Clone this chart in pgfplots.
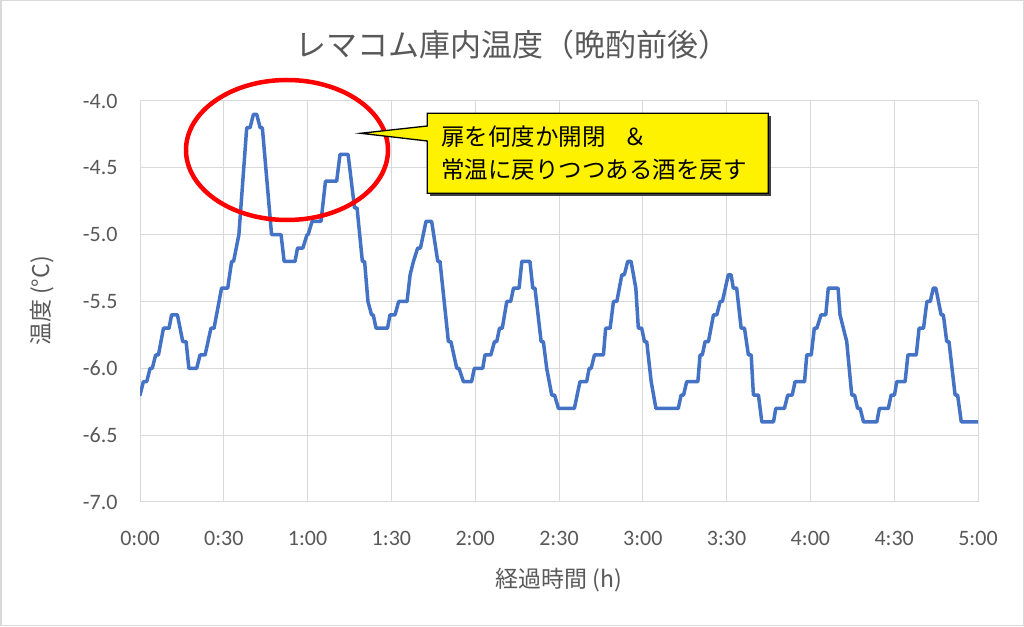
\documentclass[border=0pt]{standalone}
\usepackage{pgfplots}
\pgfplotsset{compat=1.18}
\usepackage{fontspec}
\setmainfont{Carlito}
\newfontfamily\jp{Noto Sans CJK JP}
\definecolor{lineblue}{HTML}{4472C4}
\definecolor{gridgray}{HTML}{D9D9D9}
\definecolor{textgray}{HTML}{595959}

\begin{document}
\begin{tikzpicture}
% chart area
\fill[white] (0pt,0pt) rectangle (1024pt,626pt);
\draw[gridgray, line width=1.5pt] (0.75pt,0.75pt) rectangle (1023.25pt,625.25pt);

\begin{axis}[
    at={(140pt,124pt)}, anchor=south west,
    scale only axis, width=838pt, height=401pt,
    xmin=0, xmax=300, ymin=-7, ymax=-4,
    axis line style={draw=none},
    major tick length=0pt,
    grid=major,
    major grid style={color=gridgray, line width=1pt},
    xtick={0,30,60,90,120,150,180,210,240,270,300},
    xticklabels={0:00,0:30,1:00,1:30,2:00,2:30,3:00,3:30,4:00,4:30,5:00},
    ytick={-7,-6.5,-6,-5.5,-5,-4.5,-4},
    yticklabels={-7.0,-6.5,-6.0,-5.5,-5.0,-4.5,-4.0},
    ticklabel style={font=\fontsize{22}{26}\selectfont, text=textgray},
    xticklabel style={anchor=base, yshift=-43pt},
    yticklabel style={anchor=east, xshift=-19pt},
]
\addplot[color=lineblue, line width=3.5pt, line join=round, line cap=round] coordinates {
(0,-6.2) (1.2,-6.1) (2.4,-6.1) (3.6,-6.0) (4.4,-6.0) (5.6,-5.9) (6.6,-5.9)
(8.4,-5.7) (10.4,-5.7) (11.3,-5.6) (13.4,-5.6) (15.3,-5.8) (16.5,-5.8)
(17.5,-6.0) (20.3,-6.0) (21.5,-5.9) (23.3,-5.9) (25.4,-5.7) (26.5,-5.7)
(29.2,-5.4) (31.4,-5.4) (32.8,-5.2) (33.5,-5.2) (35.4,-5.0)
(38.2,-4.2) (39.4,-4.2) (40.6,-4.1) (41.8,-4.1) (43.0,-4.2) (43.8,-4.2)
(47.1,-5.0) (50.5,-5.0)
(51.6,-5.2) (55.5,-5.2) (56.4,-5.1) (58.3,-5.1) (59.8,-5.0) (60.2,-5.0)
(61.6,-4.9) (64.8,-4.9) (66.4,-4.6) (70.4,-4.6) (71.6,-4.4) (74.5,-4.4)
(76.8,-4.8) (77.7,-4.8) (79.6,-5.2) (80.4,-5.2) (81.6,-5.5)
(82.9,-5.6) (83.5,-5.6) (84.5,-5.7) (88.6,-5.7) (89.5,-5.6) (91.3,-5.6)
(92.6,-5.5) (95.6,-5.5) (96.7,-5.3) (97.9,-5.2) (99.4,-5.1) (100.4,-5.1)
(102.4,-4.9) (104.4,-4.9) (106.6,-5.2) (107.4,-5.2) (110.4,-5.8) (111.3,-5.8)
(113.4,-6.0) (114.2,-6.0) (115.8,-6.1) (118.7,-6.1) (119.7,-6.0) (122.7,-6.0)
(123.5,-5.9) (125.6,-5.9) (126.9,-5.8) (127.7,-5.8) (128.7,-5.7) (129.7,-5.7)
(131.3,-5.5) (132.7,-5.5) (133.7,-5.4) (135.7,-5.4) (136.7,-5.2) (139.6,-5.2)
(140.6,-5.4) (141.4,-5.4) (143.6,-5.8) (144.4,-5.8) (145.6,-6.0)
(147.4,-6.2) (148.4,-6.2) (149.8,-6.3) (155.5,-6.3) (157.5,-6.1) (159.9,-6.1)
(160.8,-6.0) (161.5,-6.0) (162.7,-5.9) (165.9,-5.9) (166.7,-5.7) (168.3,-5.7)
(169.5,-5.5) (170.7,-5.5) (172.5,-5.3) (173.4,-5.3) (174.6,-5.2) (175.8,-5.2)
(177.5,-5.4) (178.4,-5.7) (179.6,-5.7) (180.6,-5.8) (181.4,-5.8) (183.0,-6.1)
(184.7,-6.3) (192.7,-6.3) (193.7,-6.2) (194.6,-6.2) (195.7,-6.1) (199.7,-6.1)
(200.5,-5.9) (201.3,-5.9) (202.3,-5.8) (203.5,-5.8) (205.3,-5.6) (206.5,-5.6)
(207.7,-5.5) (208.5,-5.5) (210.6,-5.3) (211.6,-5.3) (212.4,-5.4) (213.6,-5.4)
(215.2,-5.7) (216.4,-5.7) (217.8,-5.9) (218.8,-5.9) (219.6,-6.2) (221.4,-6.2)
(222.6,-6.4) (226.8,-6.4) (227.6,-6.3) (230.7,-6.3) (231.9,-6.2) (233.5,-6.2)
(234.5,-6.1) (237.9,-6.1) (238.7,-5.9) (240.3,-5.9) (241.4,-5.7) (242.3,-5.7)
(243.8,-5.6) (245.5,-5.6) (246.4,-5.4) (249.9,-5.4) (250.6,-5.6) (253.0,-5.8)
(254.8,-6.2) (255.8,-6.2) (256.9,-6.3) (257.8,-6.3) (259.0,-6.4) (263.8,-6.4)
(264.7,-6.3) (267.9,-6.3) (268.9,-6.2) (270.1,-6.2) (270.9,-6.1) (273.9,-6.1)
(274.9,-5.9) (277.9,-5.9) (278.9,-5.7) (280.5,-5.7) (281.7,-5.5) (282.9,-5.5)
(284.0,-5.4) (284.9,-5.4) (286.8,-5.6) (287.6,-5.6) (288.8,-5.8) (289.6,-5.8)
(291.8,-6.2) (292.7,-6.2) (294.0,-6.4) (300,-6.4)
};
\end{axis}

% title and axis titles
\node[text=textgray, font=\jp\fontsize{31}{36}\selectfont] at (512pt,581pt) {レマコム庫内温度（晩酌前後）};
\node[text=textgray, font=\jp\fontsize{23}{28}\selectfont] at (559pt,46pt) {経過時間 (h)};
\node[text=textgray, font=\jp\fontsize{23}{28}\selectfont, rotate=90] at (42pt,325pt) {温度 (°C)};

% annotation: ellipse
\draw[red, line width=4.5pt] (287pt,476pt) ellipse [x radius=101pt, y radius=70pt];

% annotation: callout
\fill[black!75] (430.3pt,509.7pt) -- (771.3pt,509.7pt) -- (771.3pt,429.7pt) -- (430.3pt,429.7pt) -- cycle;
\filldraw[fill=yellow, draw=black, line width=1.3pt, line join=miter]
  (427.3pt,512.7pt) -- (768.3pt,512.7pt) -- (768.3pt,432.7pt) -- (427.3pt,432.7pt)
  -- (427.3pt,485pt) -- (360.7pt,492.7pt) -- (427.3pt,500pt) -- cycle;
\node[anchor=base west, inner sep=0pt, font=\jp\fontsize{23.5}{28}\selectfont] at (441pt,480pt) {扉を何度か開閉\hspace{0.75em}＆};
\node[anchor=base west, inner sep=0pt, font=\jp\fontsize{23.5}{28}\selectfont] at (441pt,447pt) {常温に戻りつつある酒を戻す};
\end{tikzpicture}
\end{document}
